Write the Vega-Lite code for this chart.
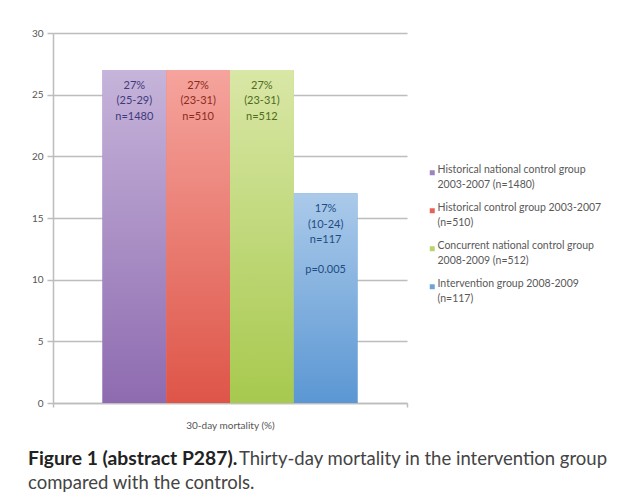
{
  "$schema": "https://vega.github.io/schema/vega-lite/v6.json",
  "background": "white",
  "padding": {"left": 28, "top": 28, "right": 5, "bottom": 5},
  "config": {"view": {"stroke": null}, "font": "Lato"},
  "title": {"text": "compared with the controls.", "orient": "bottom", "anchor": "start", "offset": 5, "font": "Lato", "fontSize": 18.5, "fontWeight": "normal", "color": "#444444"},
  "vconcat": [
    {
      "width": 354,
      "height": 370,
      "data": {
        "values": [
          {"measure": "30-day mortality (%)", "group": "Historical national control group\n2003-2007 (n=1480)", "value": 27, "label": "27%\n(25-29)\nn=1480", "note": ""},
          {"measure": "30-day mortality (%)", "group": "Historical control group 2003-2007\n(n=510)", "value": 27, "label": "27%\n(23-31)\nn=510", "note": ""},
          {"measure": "30-day mortality (%)", "group": "Concurrent national control group\n2008-2009 (n=512)", "value": 27, "label": "27%\n(23-31)\nn=512", "note": ""},
          {"measure": "30-day mortality (%)", "group": "Intervention group 2008-2009\n(n=117)", "value": 17, "label": "17%\n(10-24)\nn=117", "note": "p=0.005"}
        ]
      },
      "title": {
        "text": "Figure 1 (abstract P287).",
        "subtitle": "Thirty-day mortality in the intervention group",
        "orient": "bottom", "anchor": "start", "frame": "group", "dx": -25, "offset": 20,
        "font": "Lato", "fontSize": 19.3, "fontWeight": "bold", "color": "#222222",
        "subtitleFont": "Lato", "subtitleFontSize": 18.5, "subtitleFontWeight": "normal", "subtitleColor": "#444444",
        "subtitlePadding": -19.3,
        "encode": {"subtitle": {"update": {"dx": {"value": 186}}}}
      },
      "encoding": {
        "x": {"field": "measure", "type": "nominal", "title": null,
          "scale": {"paddingInner": 0, "paddingOuter": 0},
          "axis": {"labelAngle": 0, "labelFontSize": 10, "labelColor": "#555555", "labelPadding": 13, "tickBand": "extent", "tickSize": 4, "tickColor": "#bdbdbd", "tickWidth": 1.5, "domainColor": "#bdbdbd", "domainWidth": 1.5}},
        "xOffset": {"field": "group", "type": "nominal", "sort": null, "scale": {"paddingInner": 0, "paddingOuter": 0.776}},
        "y": {"field": "value", "type": "quantitative", "scale": {"domain": [0, 30]},
          "axis": {"title": null, "values": [0, 5, 10, 15, 20, 25, 30], "gridColor": "#bdbdbd", "gridWidth": 1.5, "domainColor": "#bdbdbd", "domainWidth": 1.5, "tickColor": "#bdbdbd", "tickWidth": 1.5, "tickSize": 6, "labelColor": "#555555", "labelFontSize": 10, "labelPadding": 4}}
      },
      "layer": [
        {
          "mark": {"type": "bar"},
          "encoding": {
            "color": {"field": "group", "type": "nominal", "sort": null,
              "scale": {"range": ["#9d83c0", "#e46257", "#b8d46c", "#6ea3da"]},
              "legend": {"title": null, "orient": "none", "legendX": 374, "legendY": 134.5, "padding": 0,
                "labelExpr": "split(datum.label, '\\n')", "labelFont": "Lato", "labelFontSize": 10.5, "labelColor": "#595959", "labelBaseline": "alphabetic", "labelLimit": 400, "labelOffset": 0,
                "symbolType": "square", "symbolSize": 25, "symbolStrokeWidth": 0, "rowPadding": 12,
                "encoding": {"labels": {"lineHeight": {"value": 15}}}}}
          }
        },
        {
          "transform": [{"filter": "indexof(datum.group, 'Historical national') === 0"}],
          "mark": {"type": "bar", "fill": {"gradient": "linear", "x1": 0, "y1": 0, "x2": 0, "y2": 1, "stops": [{"offset": 0, "color": "#c6b4da"}, {"offset": 1, "color": "#8e6bb0"}]}}
        },
        {
          "transform": [{"filter": "indexof(datum.group, 'Historical control') === 0"}],
          "mark": {"type": "bar", "fill": {"gradient": "linear", "x1": 0, "y1": 0, "x2": 0, "y2": 1, "stops": [{"offset": 0, "color": "#f5a49d"}, {"offset": 1, "color": "#de5548"}]}}
        },
        {
          "transform": [{"filter": "indexof(datum.group, 'Concurrent') === 0"}],
          "mark": {"type": "bar", "fill": {"gradient": "linear", "x1": 0, "y1": 0, "x2": 0, "y2": 1, "stops": [{"offset": 0, "color": "#d9e7a6"}, {"offset": 1, "color": "#a7c94e"}]}}
        },
        {
          "transform": [{"filter": "indexof(datum.group, 'Intervention') === 0"}],
          "mark": {"type": "bar", "fill": {"gradient": "linear", "x1": 0, "y1": 0, "x2": 0, "y2": 1, "stops": [{"offset": 0, "color": "#abcaea"}, {"offset": 1, "color": "#5b97d3"}]}}
        },
        {
          "mark": {"type": "text", "baseline": "top", "dy": 10, "lineBreak": "\n", "lineHeight": 15.3, "fontSize": 11, "font": "Lato"},
          "encoding": {
            "text": {"field": "label"},
            "color": {"field": "group", "type": "nominal", "sort": null, "scale": {"range": ["#3f3a7c", "#8b2b20", "#4f6b1d", "#1e4c82"]}, "legend": null}
          }
        },
        {
          "transform": [{"filter": "datum.note !== ''"}],
          "mark": {"type": "text", "baseline": "top", "dy": 71, "fontSize": 11, "font": "Lato", "color": "#1e4c82"},
          "encoding": {
            "text": {"field": "note"}
          }
        }
      ],
      "resolve": {"scale": {"color": "independent"}}
    }
  ]
}
